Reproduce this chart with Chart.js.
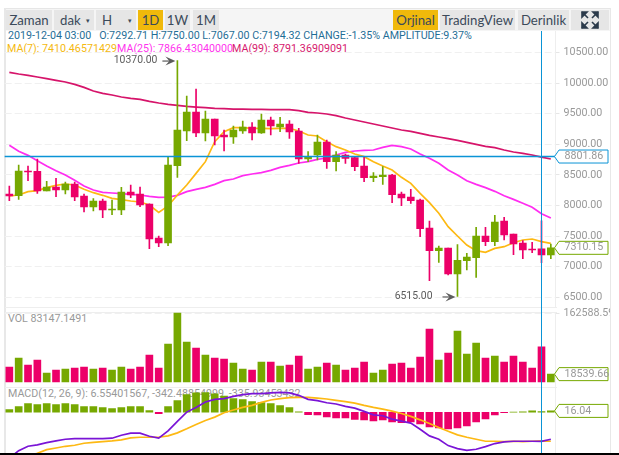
<!DOCTYPE html>
<html>
<head>
<meta charset="utf-8">
<script src="https://cdn.jsdelivr.net/npm/chart.js@4"></script>
<style>
html, body { margin: 0; padding: 0; background: #fff; overflow: hidden; }
body { width: 619px; height: 455px; position: relative; font-family: Roboto, sans-serif; }
.abs { position: absolute; }
canvas { position: absolute; left: 4px; }
.btn { position: absolute; top: 10px; height: 20px; line-height: 20px; background: #e6e6e6; color: #3b4a5a; font-family: Lato, sans-serif; font-size: 13.2px; text-align: center; }
.btn.on { background: #f0b90b; }
.txt { position: absolute; white-space: pre; font-size: 10.7px; line-height: 13px; }
</style>
</head>
<body>
<div class="abs" style="left:5px;top:8px;width:605px;height:22px;background:#f5f5f5;border-top:1px solid #e6e6e6"></div>
<div class="abs" style="left:4px;top:8px;width:2px;height:445px;background:#e8e8e8"></div>
<div class="abs" style="left:610px;top:8px;width:1px;height:445px;background:#e8e8e8"></div>
<div class="abs" style="left:5px;top:307px;width:552px;height:1px;background:#eee"></div>
<div class="abs" style="left:5px;top:312px;width:552px;height:1px;background:#eee"></div>
<div class="abs" style="left:5px;top:387px;width:552px;height:1px;background:#eee"></div>
<div class="abs" style="left:0;top:453px;width:619px;height:2px;background:#000"></div>

<div class="btn" style="left:6px;width:46px">Zaman</div>
<div class="btn" style="left:54px;width:40px;text-align:left;text-indent:6px">dak<span style="font-size:7px;position:absolute;right:4px;top:0">&#9662;</span></div>
<div class="btn" style="left:96px;width:40px;text-align:left;text-indent:6px">H<span style="font-size:7px;position:absolute;right:4px;top:0">&#9662;</span></div>
<div class="btn on" style="left:138px;width:25px">1D</div>
<div class="btn" style="left:165px;width:25px">1W</div>
<div class="btn" style="left:193px;width:26px">1M</div>
<div class="btn on" style="left:393px;width:45px">Orjinal</div>
<div class="btn" style="left:440px;width:75px">TradingView</div>
<div class="btn" style="left:518px;width:51px">Derinlik</div>
<div class="btn" style="left:571px;width:38px">
  <svg width="18" height="18" viewBox="0 0 18 18" style="margin-top:1px">
    <g fill="#2b3a4a" stroke="#2b3a4a" stroke-width="1.6">
      <path d="M1 1h5l-5 5z"/><path d="M1 1l6 6"/>
      <path d="M17 1h-5l5 5z"/><path d="M17 1l-6 6"/>
      <path d="M1 17h5l-5-5z"/><path d="M1 17l6-6"/>
      <path d="M17 17h-5l5-5z"/><path d="M17 17l-6-6"/>
    </g>
  </svg>
</div>

<div class="txt" style="left:8px;top:29px;color:#1f6e96">2019-12-04 03:00   O:7292.71 H:7750.00 L:7067.00 C:7194.32 CHANGE:-1.35% AMPLITUDE:9.37%</div>
<div class="txt" style="left:7px;top:42px;color:#f5b90f">MA(7): 7410.46571429</div>
<div class="txt" style="left:117px;top:42px;color:#ff33ee">MA(25): 7866.43040000</div>
<div class="txt" style="left:232px;top:42px;color:#d6186e">MA(99): 8791.36909091</div>
<div class="txt" style="left:8px;top:312px;color:#999">VOL 83147.1491</div>
<div class="txt" style="left:8px;top:387px;color:#999">MACD(12, 26, 9): 6.55401567, -342.48854999, -335.93453432</div>

<canvas id="priceChart"></canvas>
<canvas id="volChart"></canvas>
<canvas id="macdChart"></canvas>

<script>
// candles, one per day, crosshair sits on 2019-12-04 (index 57)
const opens = [8190,8162,8565,8558,8238,8304,8255,8353,8157,7977,8075,7928,7928,8222,8190,8026,7470,7389,8652,9219,9529,9186,9415,9153,9121,9219,9284,9186,9399,9284,9333,9219,8761,8827,9039,8718,8827,8783,8647,8456,8473,8500,8190,8140,8091,7634,7263,7307,6882,7100,7149,7503,7411,7748,7536,7389,7291,7292.71,7194];
const highs = [8320,8663,8647,8761,8396,8445,8385,8385,8190,8113,8108,8091,8298,8337,8304,8030,7503,8789,10370,9791,9905,9546,9415,9235,9300,9382,9355,9497,9448,9442,9388,9262,8881,9153,9072,8881,8843,8799,8789,8538,8636,8511,8222,8266,8108,7748,7340,7307,7362,7220,7645,7645,7841,7808,7536,7427,7400,7750,7373];
const lows = [8081,8102,8407,8200,8238,8146,8190,8081,7895,7912,7803,7852,7852,8130,7983,7296,7329,7345,8462,9061,9126,9055,8990,8892,9017,9181,9072,9181,9153,9208,9099,8690,8718,8745,8609,8565,8690,8571,8391,8391,8347,8048,7999,8037,7492,6773,7073,6866,6515,6948,6828,7345,7345,7438,7198,7133,7231,7067,7133];
const closes = [8157,8565,8549,8238,8304,8255,8353,8140,7977,8075,7928,7944,8222,8173,8010,7454,7389,8663,9235,9529,9186,9415,9137,9121,9235,9284,9186,9399,9300,9333,9202,8761,8799,9039,8718,8827,8772,8636,8456,8484,8500,8179,8124,8081,7623,7263,7307,6882,7105,7160,7503,7411,7732,7520,7372,7275,7275,7194.32,7310.15];

const ma7 = [8157,8173,8228,8244,8293,8331,8353,8337,8266,8211,8168,8119,8097,8075,8059,8010,7890,7994,8173,8337,8527,8718,9045,9208,9273,9273,9263,9263,9257,9263,9263,9219,9154,9137,9045,8963,8908,8843,8800,8718,8647,8581,8462,8364,8200,8048,7874,7656,7503,7356,7263,7236,7301,7329,7394,7438,7454,7410.47,7383];
const ma25 = [8985,8887,8821,8734,8647,8571,8500,8413,8320,8255,8217,8206,8195,8184,8173,8151,8135,8140,8168,8228,8266,8298,8347,8407,8435,8489,8516,8538,8576,8625,8658,8696,8718,8756,8778,8827,8870,8892,8903,8908,8952,8985,8963,8925,8843,8772,8691,8582,8500,8407,8347,8293,8233,8162,8102,8037,7972,7866.43,7797];
const ma99 = [10178,10150,10128,10101,10074,10047,10020,9981,9932,9872,9834,9807,9774,9752,9736,9703,9676,9654,9638,9622,9610,9600,9589,9584,9578,9578,9573,9573,9567,9567,9567,9551,9524,9513,9497,9469,9431,9399,9366,9333,9300,9268,9235,9213,9181,9148,9121,9093,9066,9034,9001,8968,8946,8908,8876,8854,8827,8791.37,8761];

const volumes = [35350,56560,40060,51840,21210,28280,30630,32990,35350,30630,32990,28280,35350,30630,35350,63630,32990,89550,162588.59,94260,80120,63630,56560,54200,44770,30630,28280,47130,47130,37700,40060,61270,30630,35350,44770,40060,28280,32990,47130,21210,28280,42420,44770,32990,58910,124890,51840,68340,120180,65980,91900,56560,61270,47130,61270,47130,32990,83147.15,18539.66];

const macdHist = [32,67,102,91,102,91,102,91,67,67,55,43,55,67,67,20,-16,67,138,209,229,232,217,189,162,150,126,114,102,79,55,4,-28,-32,-55,-67,-67,-83,-91,-102,-91,-114,-122,-114,-138,-173,-185,-197,-185,-162,-114,-79,-32,-4,2,4,16,6.55,16.04];
const macdDif = [-542,-451,-400,-384,-357,-337,-317,-309,-309,-309,-309,-305,-270,-246,-246,-282,-305,-219,-108,2,57,120,152,160,187,207,219,219,227,234,227,199,152,136,112,97,69,49,10,-30,-41,-81,-104,-128,-199,-278,-317,-392,-427,-447,-435,-404,-368,-349,-341,-341,-341,-342.49,-317];
const macdDea = [-621,-561,-514,-483,-439,-420,-400,-388,-364,-353,-345,-337,-325,-301,-294,-294,-294,-278,-242,-195,-144,-97,-57,-6,26,57,81,116,144,160,171,175,175,167,156,140,124,108,81,57,37,14,-14,-49,-89,-132,-179,-223,-266,-294,-317,-341,-341,-345,-341,-345,-341,-335.93,-341];

const priceTicks = [10500,10000,9500,9000,8500,8000,7500,7000,6500];
const volTicks = [162588.59];

const labels = opens.map((_, i) => String(i + 1));
const crossIndex = 57;

const UP = '#76a800', DOWN = '#ec0068', GRID = '#f0f0f0', CROSS = '#0a94d6';
const candleColors = opens.map((v, i) => closes[i] >= v ? UP : DOWN);

// small helper so the three panels line up on the same x scale
function panelOptions(min, max, ticks, padTop, padBottom) {
  return {
    responsive: false,
    animation: false,
    events: [],
    layout: { padding: { left: 0.67, top: padTop, bottom: padBottom } },
    plugins: { legend: { display: false }, tooltip: { enabled: false } },
    datasets: { bar: { grouped: false } },
    scales: {
      x: { display: false, offset: true, grid: { display: false } },
      y: {
        position: 'right', min, max,
        afterFit(s) { s.width = 54.5; s.paddingTop = 0; s.paddingBottom = 0; },
        afterBuildTicks(s) { s.ticks = ticks.map(v => ({ value: v })); },
        border: { color: '#eee', dash: [7, 3] },
        grid: { color: GRID, tickColor: '#e6e6e6', tickLength: 4, tickBorderDash: [], lineWidth: 1 },
        ticks: {
          padding: 4, color: '#999', font: { family: 'Roboto', size: 10.7 },
          autoSkip: false, maxRotation: 0,
          callback: v => v.toFixed(2)
        }
      }
    }
  };
}

function drawFlag(chart, value, text, color) {
  const { ctx, chartArea, scales } = chart;
  const y = scales.y.getPixelForValue(value), l = chartArea.right - 1, h = 6.5;
  ctx.save();
  ctx.beginPath();
  ctx.moveTo(l, y);
  ctx.lineTo(l + 4.5, y - h);
  ctx.lineTo(l + 53.5, y - h);
  ctx.lineTo(l + 53.5, y + h);
  ctx.lineTo(l + 4.5, y + h);
  ctx.closePath();
  ctx.fillStyle = '#fff';
  ctx.fill();
  ctx.strokeStyle = color;
  ctx.lineWidth = 1;
  ctx.stroke();
  ctx.fillStyle = '#999';
  ctx.font = '10.7px Roboto';
  ctx.textBaseline = 'middle';
  ctx.fillText(text, chartArea.right + 9, y);
  ctx.restore();
}

function drawCrosshair(chart) {
  const { ctx, scales, height } = chart;
  const x = Math.floor(scales.x.getPixelForValue(crossIndex)) + 0.5;
  ctx.save();
  ctx.strokeStyle = CROSS;
  ctx.lineWidth = 1;
  ctx.beginPath();
  ctx.moveTo(x, 0);
  ctx.lineTo(x, height);
  ctx.stroke();
  ctx.restore();
}

function drawExtreme(chart, index, value, text, textGap) {
  const { ctx, scales } = chart;
  const x = scales.x.getPixelForValue(index), y = scales.y.getPixelForValue(value);
  ctx.save();
  ctx.fillStyle = '#5c5c5c';
  ctx.strokeStyle = '#5c5c5c';
  ctx.font = '10.4px Roboto';
  ctx.textBaseline = 'middle';
  ctx.textAlign = 'right';
  ctx.fillText(text, x - textGap, y);
  ctx.lineWidth = 1.2;
  ctx.beginPath();
  ctx.moveTo(x - 15, y + 0.5);
  ctx.lineTo(x - 6, y + 0.5);
  ctx.stroke();
  ctx.beginPath();
  ctx.moveTo(x - 2, y + 0.5);
  ctx.lineTo(x - 12, y - 4);
  ctx.lineTo(x - 8, y + 0.5);
  ctx.lineTo(x - 12, y + 5);
  ctx.closePath();
  ctx.fill();
  ctx.restore();
}

const priceOverlay = {
  id: 'priceOverlay',
  afterDatasetsDraw(chart) {
    const { ctx, chartArea, scales } = chart;
    const y = scales.y.getPixelForValue(8801.86);
    ctx.save();
    ctx.strokeStyle = CROSS;
    ctx.lineWidth = 1.5;
    ctx.beginPath();
    ctx.moveTo(chartArea.left, y);
    ctx.lineTo(chartArea.right, y);
    ctx.stroke();
    ctx.restore();
    drawCrosshair(chart);
    drawExtreme(chart, 18, 10370, '10370.00', 20);
    drawExtreme(chart, 48, 6515, '6515.00', 25);
    drawFlag(chart, 8801.86, '8801.86', CROSS);
    drawFlag(chart, 7310.15, '7310.15', UP);
  }
};
const volOverlay = {
  id: 'volOverlay',
  afterDatasetsDraw(chart) {
    drawCrosshair(chart);
    drawFlag(chart, 18539.66, '18539.66', UP);
  }
};
const macdOverlay = {
  id: 'macdOverlay',
  afterDatasetsDraw(chart) {
    drawCrosshair(chart);
    drawFlag(chart, 16.04, '16.04', UP);
  }
};

function place(id, top, height) {
  const c = document.getElementById(id);
  c.width = 606;
  c.height = height;
  c.style.top = top + 'px';
  return c;
}

const maLine = (data, color) => ({ type: 'line', data, borderColor: color, borderWidth: 1.7, pointRadius: 0, tension: 0, order: 3 });

new Chart(place('priceChart', 31, 281), {
  type: 'bar',
  data: {
    labels,
    datasets: [
      maLine(ma7, '#fdb913'),
      maLine(ma25, '#ff2df0'),
      maLine(ma99, '#d6146a'),
      { data: lows.map((v, i) => [v, highs[i]]), backgroundColor: candleColors, barThickness: 1, order: 2 },
      { data: opens.map((v, i) => [v, closes[i]]), backgroundColor: candleColors, barThickness: 7, order: 1 }
    ]
  },
  options: panelOptions(6343, 10853, priceTicks, 0, 5),
  plugins: [priceOverlay]
});

new Chart(place('volChart', 304, 83), {
  type: 'bar',
  data: {
    labels,
    datasets: [{ data: volumes, backgroundColor: candleColors, barThickness: 7 }]
  },
  options: panelOptions(-11782, 164955, volTicks, 8, 0),
  plugins: [volOverlay]
});

new Chart(place('macdChart', 387, 66), {
  type: 'bar',
  data: {
    labels,
    datasets: [
      { type: 'line', data: macdDif, borderColor: '#7a14d6', borderWidth: 1.7, pointRadius: 0, tension: 0, order: 1 },
      { type: 'line', data: macdDea, borderColor: '#fdb913', borderWidth: 1.7, pointRadius: 0, tension: 0, order: 1 },
      { data: macdHist, backgroundColor: macdHist.map(v => v >= 0 ? UP : DOWN), barThickness: 7, order: 2 }
    ]
  },
  options: panelOptions(-479, 297, [], 0, 0),
  plugins: [macdOverlay]
});
</script>
</body>
</html>
